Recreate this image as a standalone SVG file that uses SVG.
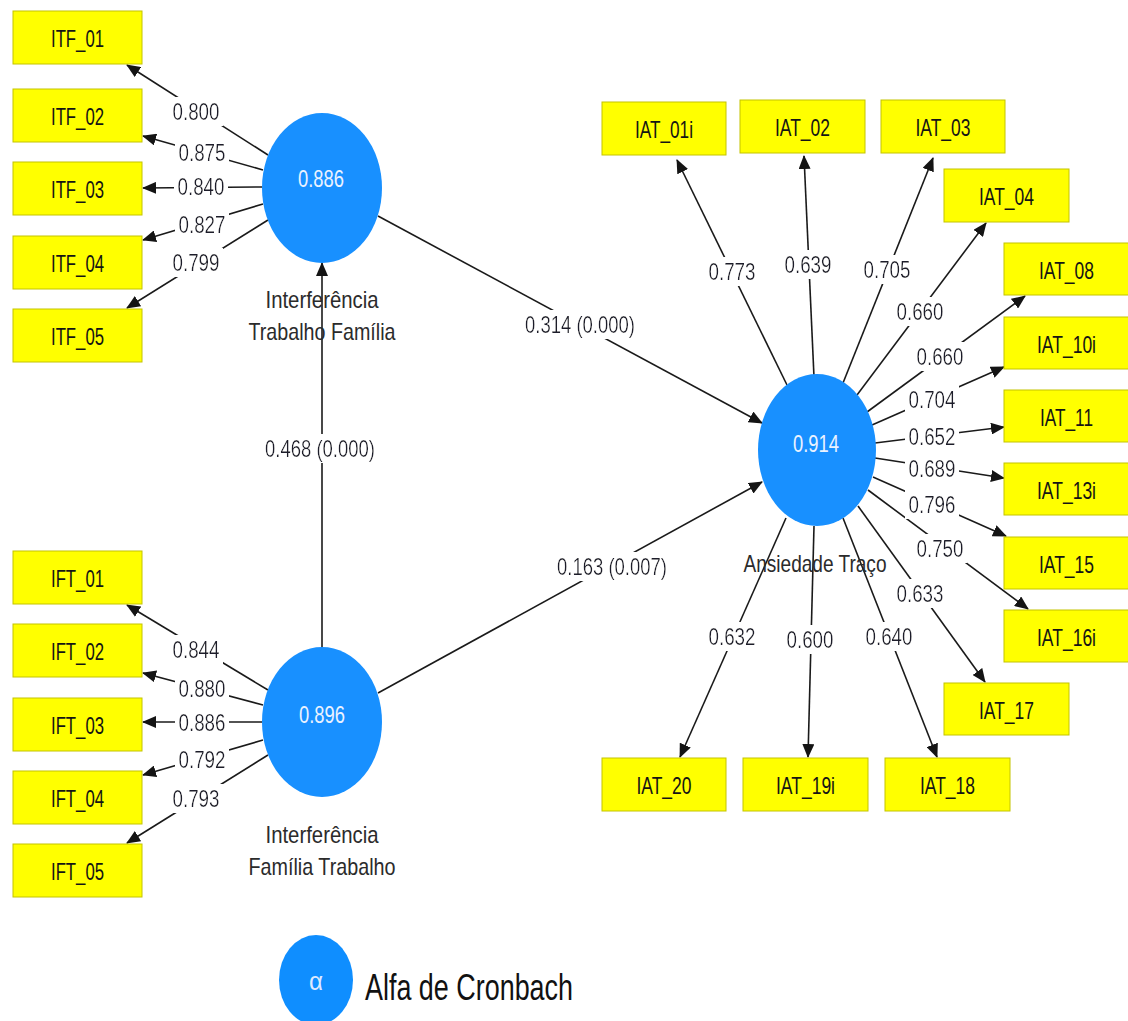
<svg xmlns="http://www.w3.org/2000/svg" width="1128" height="1021" viewBox="0 0 1128 1021">
<defs>
<marker id="ah" viewBox="0 0 14 12" refX="13" refY="6" markerWidth="14" markerHeight="12" markerUnits="userSpaceOnUse" orient="auto">
<path d="M0,0 L14,6 L0,12 Z" fill="#141414"/>
</marker>
<filter id="bg" x="-0.06" y="-0.02" width="1.12" height="1.04">
<feFlood flood-color="#ffffff"/>
<feComposite in="SourceGraphic" operator="over"/>
</filter>
</defs>
<style>
text{font-family:"Liberation Sans",Arial,sans-serif;text-anchor:middle}
.box rect{fill:#ffff00;stroke:#c4c400;stroke-width:1}
.box text{font-size:24px;fill:#141414}
.lv circle,.lv ellipse{fill:#1890ff}
.lv .v{font-size:24px;fill:#eaf2ff}
.lv .n{font-size:24px;fill:#2b2b2b}
#connectors line{stroke:#1a1a1a;stroke-width:1.6;marker-end:url(#ah)}
.lab{font-size:24px;fill:#1c1c2c;filter:url(#bg)}
</style>
<rect width="1128" height="1021" fill="#ffffff"/>

<g id="connectors">
<line x1="268" y1="155" x2="127" y2="65"/>
<line x1="263" y1="170" x2="143" y2="136"/>
<line x1="262" y1="187" x2="143" y2="188"/>
<line x1="263" y1="204" x2="143" y2="240"/>
<line x1="268" y1="220" x2="127" y2="308"/>
<line x1="268" y1="690" x2="127" y2="605"/>
<line x1="263" y1="705" x2="143" y2="673"/>
<line x1="262" y1="722" x2="143" y2="722"/>
<line x1="263" y1="740" x2="143" y2="775"/>
<line x1="268" y1="755" x2="127" y2="843"/>
<line x1="322" y1="647" x2="322" y2="263"/>
<line x1="378" y1="216" x2="762" y2="423"/>
<line x1="378" y1="693" x2="762" y2="482"/>
<line x1="787" y1="385" x2="677" y2="160"/>
<line x1="814" y1="377" x2="804" y2="156"/>
<line x1="843" y1="383" x2="933" y2="158"/>
<line x1="857" y1="395" x2="986" y2="223"/>
<line x1="867" y1="412" x2="1025" y2="296"/>
<line x1="872" y1="425" x2="1004" y2="367"/>
<line x1="875" y1="443" x2="1004" y2="427"/>
<line x1="875" y1="458" x2="1004" y2="478"/>
<line x1="873" y1="477" x2="1006" y2="536"/>
<line x1="868" y1="490" x2="1028" y2="609"/>
<line x1="858" y1="506" x2="985" y2="682"/>
<line x1="843" y1="518" x2="937" y2="757"/>
<line x1="814" y1="526" x2="808" y2="757"/>
<line x1="786" y1="518" x2="680" y2="757"/>
<g id="connector-labels">
<text class="lab" x="196" y="120" textLength="47" lengthAdjust="spacingAndGlyphs">0.800</text>
<text class="lab" x="202" y="161" textLength="47" lengthAdjust="spacingAndGlyphs">0.875</text>
<text class="lab" x="201" y="195" textLength="47" lengthAdjust="spacingAndGlyphs">0.840</text>
<text class="lab" x="202" y="233" textLength="47" lengthAdjust="spacingAndGlyphs">0.827</text>
<text class="lab" x="196" y="271" textLength="47" lengthAdjust="spacingAndGlyphs">0.799</text>
<text class="lab" x="196" y="658" textLength="47" lengthAdjust="spacingAndGlyphs">0.844</text>
<text class="lab" x="202" y="697" textLength="47" lengthAdjust="spacingAndGlyphs">0.880</text>
<text class="lab" x="202" y="731" textLength="47" lengthAdjust="spacingAndGlyphs">0.886</text>
<text class="lab" x="202" y="768" textLength="47" lengthAdjust="spacingAndGlyphs">0.792</text>
<text class="lab" x="196" y="807" textLength="47" lengthAdjust="spacingAndGlyphs">0.793</text>
<text class="lab" x="320" y="457" textLength="110" lengthAdjust="spacingAndGlyphs">0.468 (0.000)</text>
<text class="lab" x="580" y="333" textLength="110" lengthAdjust="spacingAndGlyphs">0.314 (0.000)</text>
<text class="lab" x="612" y="575" textLength="110" lengthAdjust="spacingAndGlyphs">0.163 (0.007)</text>
<text class="lab" x="732" y="280" textLength="47" lengthAdjust="spacingAndGlyphs">0.773</text>
<text class="lab" x="808" y="273" textLength="47" lengthAdjust="spacingAndGlyphs">0.639</text>
<text class="lab" x="887" y="278" textLength="47" lengthAdjust="spacingAndGlyphs">0.705</text>
<text class="lab" x="920" y="320" textLength="47" lengthAdjust="spacingAndGlyphs">0.660</text>
<text class="lab" x="940" y="365" textLength="47" lengthAdjust="spacingAndGlyphs">0.660</text>
<text class="lab" x="932" y="408" textLength="47" lengthAdjust="spacingAndGlyphs">0.704</text>
<text class="lab" x="932" y="445" textLength="47" lengthAdjust="spacingAndGlyphs">0.652</text>
<text class="lab" x="932" y="477" textLength="47" lengthAdjust="spacingAndGlyphs">0.689</text>
<text class="lab" x="932" y="513" textLength="47" lengthAdjust="spacingAndGlyphs">0.796</text>
<text class="lab" x="940" y="557" textLength="47" lengthAdjust="spacingAndGlyphs">0.750</text>
<text class="lab" x="920" y="602" textLength="47" lengthAdjust="spacingAndGlyphs">0.633</text>
<text class="lab" x="889" y="645" textLength="47" lengthAdjust="spacingAndGlyphs">0.640</text>
<text class="lab" x="810" y="648" textLength="47" lengthAdjust="spacingAndGlyphs">0.600</text>
<text class="lab" x="732" y="645" textLength="47" lengthAdjust="spacingAndGlyphs">0.632</text>
</g>
</g>

<g id="ITF" class="lv">
<ellipse cx="322" cy="188" rx="60" ry="75"/>
<text class="v" x="321" y="187" textLength="46" lengthAdjust="spacingAndGlyphs">0.886</text>
<text class="n" x="322" y="308" textLength="113" lengthAdjust="spacingAndGlyphs">Interferência</text>
<text class="n" x="322" y="340" textLength="147" lengthAdjust="spacingAndGlyphs">Trabalho Família</text>
</g>
<g id="IFT" class="lv">
<ellipse cx="322" cy="722" rx="60" ry="75"/>
<text class="v" x="322" y="723" textLength="46" lengthAdjust="spacingAndGlyphs">0.896</text>
<text class="n" x="322" y="843" textLength="113" lengthAdjust="spacingAndGlyphs">Interferência</text>
<text class="n" x="322" y="875" textLength="147" lengthAdjust="spacingAndGlyphs">Família Trabalho</text>
</g>
<g id="IAT" class="lv">
<ellipse cx="817" cy="450" rx="59" ry="76"/>
<text class="v" x="816" y="452" textLength="46" lengthAdjust="spacingAndGlyphs">0.914</text>
<text class="n" x="815" y="572" textLength="143" lengthAdjust="spacingAndGlyphs">Ansiedade Traço</text>
</g>

<g id="ITF_01" class="box"><rect x="13" y="11" width="129" height="53"/><text x="77.5" y="47" textLength="53" lengthAdjust="spacingAndGlyphs">ITF_01</text></g>
<g id="ITF_02" class="box"><rect x="13" y="89" width="129" height="53"/><text x="77.5" y="125" textLength="53" lengthAdjust="spacingAndGlyphs">ITF_02</text></g>
<g id="ITF_03" class="box"><rect x="13" y="162" width="129" height="53"/><text x="77.5" y="198" textLength="53" lengthAdjust="spacingAndGlyphs">ITF_03</text></g>
<g id="ITF_04" class="box"><rect x="13" y="236" width="129" height="53"/><text x="77.5" y="272" textLength="53" lengthAdjust="spacingAndGlyphs">ITF_04</text></g>
<g id="ITF_05" class="box"><rect x="13" y="309" width="129" height="53"/><text x="77.5" y="345" textLength="53" lengthAdjust="spacingAndGlyphs">ITF_05</text></g>
<g id="IFT_01" class="box"><rect x="13" y="551" width="129" height="53"/><text x="77.5" y="587" textLength="53" lengthAdjust="spacingAndGlyphs">IFT_01</text></g>
<g id="IFT_02" class="box"><rect x="13" y="624" width="129" height="53"/><text x="77.5" y="660" textLength="53" lengthAdjust="spacingAndGlyphs">IFT_02</text></g>
<g id="IFT_03" class="box"><rect x="13" y="698" width="129" height="53"/><text x="77.5" y="734" textLength="53" lengthAdjust="spacingAndGlyphs">IFT_03</text></g>
<g id="IFT_04" class="box"><rect x="13" y="771" width="129" height="53"/><text x="77.5" y="807" textLength="53" lengthAdjust="spacingAndGlyphs">IFT_04</text></g>
<g id="IFT_05" class="box"><rect x="13" y="844" width="129" height="53"/><text x="77.5" y="880" textLength="53" lengthAdjust="spacingAndGlyphs">IFT_05</text></g>
<g id="IAT_01i" class="box"><rect x="602" y="102" width="124" height="53"/><text x="664" y="138" textLength="58" lengthAdjust="spacingAndGlyphs">IAT_01i</text></g>
<g id="IAT_02" class="box"><rect x="740" y="100" width="125" height="53"/><text x="802.5" y="136" textLength="55" lengthAdjust="spacingAndGlyphs">IAT_02</text></g>
<g id="IAT_03" class="box"><rect x="881" y="100" width="124" height="53"/><text x="943" y="136" textLength="55" lengthAdjust="spacingAndGlyphs">IAT_03</text></g>
<g id="IAT_04" class="box"><rect x="944" y="169" width="125" height="53"/><text x="1006.5" y="205" textLength="55" lengthAdjust="spacingAndGlyphs">IAT_04</text></g>
<g id="IAT_08" class="box"><rect x="1004" y="243" width="125" height="52"/><text x="1066.5" y="279" textLength="55" lengthAdjust="spacingAndGlyphs">IAT_08</text></g>
<g id="IAT_10i" class="box"><rect x="1004" y="317" width="125" height="52"/><text x="1066.5" y="353" textLength="59" lengthAdjust="spacingAndGlyphs">IAT_10i</text></g>
<g id="IAT_11" class="box"><rect x="1004" y="390" width="125" height="52"/><text x="1066.5" y="426" textLength="53" lengthAdjust="spacingAndGlyphs">IAT_11</text></g>
<g id="IAT_13i" class="box"><rect x="1004" y="463" width="125" height="52"/><text x="1066.5" y="499" textLength="59" lengthAdjust="spacingAndGlyphs">IAT_13i</text></g>
<g id="IAT_15" class="box"><rect x="1004" y="537" width="125" height="52"/><text x="1066.5" y="573" textLength="55" lengthAdjust="spacingAndGlyphs">IAT_15</text></g>
<g id="IAT_16i" class="box"><rect x="1004" y="610" width="125" height="52"/><text x="1066.5" y="646" textLength="59" lengthAdjust="spacingAndGlyphs">IAT_16i</text></g>
<g id="IAT_17" class="box"><rect x="944" y="683" width="125" height="52"/><text x="1006.5" y="719" textLength="55" lengthAdjust="spacingAndGlyphs">IAT_17</text></g>
<g id="IAT_20" class="box"><rect x="602" y="758" width="124" height="53"/><text x="664" y="794" textLength="55" lengthAdjust="spacingAndGlyphs">IAT_20</text></g>
<g id="IAT_19i" class="box"><rect x="743" y="758" width="125" height="53"/><text x="805.5" y="794" textLength="59" lengthAdjust="spacingAndGlyphs">IAT_19i</text></g>
<g id="IAT_18" class="box"><rect x="885" y="758" width="125" height="53"/><text x="947.5" y="794" textLength="55" lengthAdjust="spacingAndGlyphs">IAT_18</text></g>

<g id="legend">
<ellipse cx="316" cy="980" rx="37" ry="45" fill="#0f8eff"/>
<text x="316" y="990" font-size="26" fill="#dde9ff" textLength="14" lengthAdjust="spacingAndGlyphs">α</text>
<text x="365" y="1000" font-size="37" fill="#111111" style="text-anchor:start" textLength="208" lengthAdjust="spacingAndGlyphs">Alfa de Cronbach</text>
</g>
</svg>
